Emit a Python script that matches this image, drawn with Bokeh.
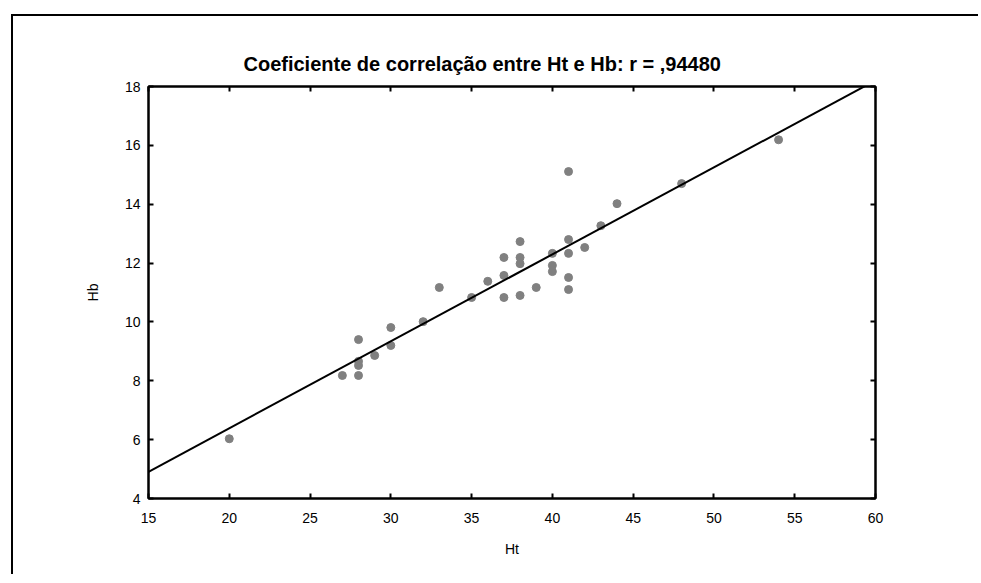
from bokeh.plotting import figure
from bokeh.models import Range1d, LinearAxis, FixedTicker, ColumnDataSource
from bokeh.embed import file_html
from bokeh.resources import INLINE

# data
ht = [20, 27, 28, 28, 28, 28, 29, 30, 30, 32, 33, 35, 36, 37, 37, 37,
      38, 38, 38, 38, 39, 40, 40, 40, 41, 41, 41, 41, 41, 42, 43, 44, 48, 54]
hb = [6.03, 8.18, 9.40, 8.66, 8.52, 8.18, 8.86, 9.81, 9.20, 10.01, 11.17, 10.83,
      11.38, 12.19, 11.58, 10.83, 12.73, 12.19, 11.98, 10.90, 11.17, 12.33, 11.92,
      11.71, 15.11, 12.80, 12.33, 11.51, 11.10, 12.53, 13.27, 14.02, 14.70, 16.19]
fit_intercept = 0.476
fit_slope = 0.2955
x_ticks = [15, 20, 25, 30, 35, 40, 45, 50, 55, 60]
y_ticks = [4, 6, 8, 10, 12, 14, 16, 18]
title_text = "Coeficiente de correlação entre Ht e Hb: r = ,94480"

FONT = "Liberation Sans"

p = figure(width=967, height=560, output_backend="svg", toolbar_location=None,
           x_range=Range1d(15, 60), y_range=Range1d(4, 18),
           min_border_left=135, min_border_right=105, min_border_top=70,
           min_border_bottom=78, title=title_text)
p.margin = (14, 0, 0, 11)
p.styles = {"border-top": "2px solid black", "border-left": "2px solid black"}

p.title.align = "left"
p.title.offset = 95
p.title.text_font = FONT
p.title.text_font_size = "20px"
p.title.text_font_style = "bold"
p.title.text_color = "black"
p.title.standoff = 24

p.grid.visible = False
p.outline_line_color = "black"
p.outline_line_width = 2
p.background_fill_color = "white"
p.border_fill_color = "white"

for ax in (p.xaxis[0], p.yaxis[0]):
    ax.major_tick_in = 5
    ax.major_tick_out = 0
    ax.minor_tick_in = 0
    ax.minor_tick_out = 0
    ax.axis_line_width = 2
    ax.major_tick_line_width = 2
    ax.major_label_text_font = FONT
    ax.major_label_text_font_size = "14px"
    ax.major_label_text_color = "black"
    ax.axis_label_text_font = FONT
    ax.axis_label_text_font_size = "14px"
    ax.axis_label_text_font_style = "normal"
    ax.axis_label_text_color = "black"

p.xaxis[0].ticker = FixedTicker(ticks=x_ticks)
p.yaxis[0].ticker = FixedTicker(ticks=y_ticks)
p.xaxis[0].axis_label = "Ht"
p.yaxis[0].axis_label = "Hb"
p.xaxis[0].major_label_standoff = 14
p.yaxis[0].major_label_standoff = 8
p.xaxis[0].axis_label_standoff = 15
p.yaxis[0].axis_label_standoff = 21

for loc, ticks in (("above", x_ticks), ("right", y_ticks)):
    ax = LinearAxis(ticker=FixedTicker(ticks=ticks))
    ax.major_tick_in = 5
    ax.major_tick_out = 0
    ax.minor_tick_in = 0
    ax.minor_tick_out = 0
    ax.axis_line_width = 2
    ax.major_tick_line_width = 2
    ax.major_label_text_color = None
    ax.major_label_standoff = 0
    p.add_layout(ax, loc)

src = ColumnDataSource(dict(x=ht, y=hb))
p.scatter("x", "y", source=src, size=8, fill_color="#808080", line_color="#808080")

fx = [x_ticks[0], x_ticks[-1]]
fy = [fit_intercept + fit_slope * v for v in fx]
p.line(fx, fy, line_color="black", line_width=2)

open("out.html", "w").write(file_html(p, INLINE))
